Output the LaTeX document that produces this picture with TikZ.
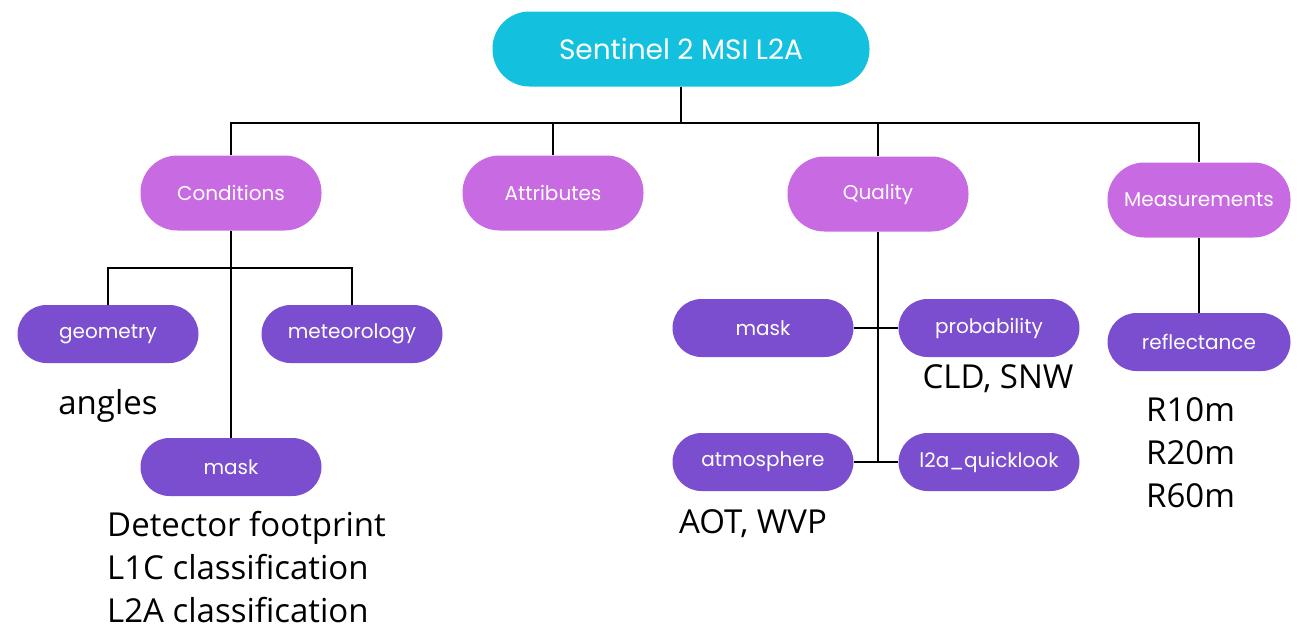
\documentclass[tikz,border=0pt]{standalone}
\usepackage{fontspec}
\setsansfont{Poppins}
\newfontfamily\labelfont{Open Sans}
\definecolor{rootcol}{HTML}{13C1DF}
\definecolor{midcol}{HTML}{C86BE2}
\definecolor{leafcol}{HTML}{7A4ECF}
\tikzset{
  pill/.style={draw=none, rounded corners=#1, inner sep=0pt, text=white, font=\sffamily},
  rootbox/.style={pill=37pt, fill=rootcol, minimum width=377pt, minimum height=75pt, font=\sffamily\fontsize{28}{30}\selectfont},
  midbox/.style={pill=37pt, fill=midcol, minimum width=181pt, minimum height=75pt, font=\sffamily\fontsize{20}{22}\selectfont},
  leafbox/.style={pill=29pt, fill=leafcol, minimum width=181pt, minimum height=58pt, font=\sffamily\fontsize{20}{22}\selectfont},
  link/.style={draw=black, line width=2.9pt},
  note/.style={inner sep=0pt, text=black, font=\labelfont\fontsize{33}{43}\selectfont, align=left},
}
\begin{document}
\begin{tikzpicture}[x=1pt,y=-1pt]
\useasboundingbox (0,0) rectangle (1299,633);
% nodes
\node[rootbox] (root) at (681,49) {Sentinel 2 MSI L2A};
\node[midbox] (cond) at (231,193) {Conditions};
\node[midbox] (attr) at (553,193) {Attributes};
\node[midbox] (qual) at (878,194) {Quality};
\node[midbox, minimum width=183pt] (meas) at (1199,200) {Measurements};
\node[leafbox] (geom) at (108,334) {geometry};
\node[leafbox] (met) at (352,334) {meteorology};
\node[leafbox] (cmask) at (231,467) {mask};
\node[leafbox] (qmask) at (763,328) {mask};
\node[leafbox] (prob) at (989,328) {probability};
\node[leafbox] (atm) at (763,462) {atmosphere};
\node[leafbox] (l2a) at (989,462) {l2a\_quicklook};
\node[leafbox, minimum width=183pt] (refl) at (1199,342) {reflectance};
% bus coordinates
\coordinate (bus) at (681,123);
\coordinate (cbus) at (231,268);
% connectors
\draw[link] (root.south) -- (bus);
\draw[link] (cond.north) -- (cond.north |- bus) -- (meas.north |- bus) -- (meas.north);
\draw[link] (attr.north) -- (attr.north |- bus);
\draw[link] (qual.north) -- (qual.north |- bus);
\draw[link] (cond.south) -- (cmask.north);
\draw[link] (geom.north) -- (geom.north |- cbus) -- (met.north |- cbus) -- (met.north);
\draw[link] (qual.south) -- (qual.south |- atm.east);
\draw[link] (qmask.east) -- (prob.west);
\draw[link] (atm.east) -- (l2a.west);
\draw[link] (meas.south) -- (refl.north);
% notes
\node[note] (angles) at (108,406) {angles};
\node[note, anchor=north west] (cnotes) at (107,511) {Detector footprint\\L1C classification\\L2A classification};
\node[note] (cldsnw) at (998,379) {CLD, SNW};
\node[note] (aotwvp) at (753,524) {AOT, WVP};
\node[note, anchor=north west] (rnotes) at (1146,397) {R10m\\R20m\\R60m};
\end{tikzpicture}
\end{document}
